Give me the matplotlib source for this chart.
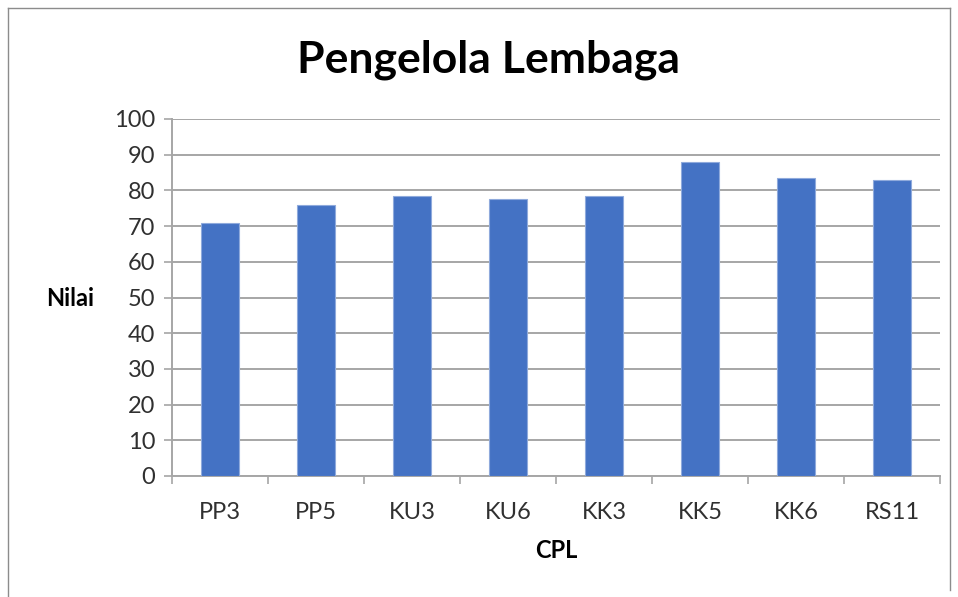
import matplotlib.pyplot as plt
from matplotlib.lines import Line2D

plt.rcParams['font.family'] = ['Lato', 'DejaVu Sans']

# data
categories = ['PP3', 'PP5', 'KU3', 'KU6', 'KK3', 'KK5', 'KK6', 'RS11']
values = [71.0, 75.8, 78.3, 77.6, 78.3, 88.0, 83.4, 82.9]

W, H = 958, 597
fig = plt.figure(figsize=(W / 100, H / 100), dpi=100)

# axes box in pixels: left 172, right 940, top 119, bottom 476
ax = fig.add_axes([172 / W, 1 - 476 / H, (940 - 172) / W, (476 - 119) / H])

x = range(len(categories))
ax.bar(x, values, width=0.4, color='#4472C4', edgecolor='#8FAADC', linewidth=0.8, zorder=3)

grid_col = '#A6A6A6'
ax.set_ylim(0, 100)
ax.set_xlim(-0.5, len(categories) - 0.5)
ax.set_yticks(range(0, 101, 10))
ax.yaxis.grid(True, color=grid_col, linewidth=1.4, zorder=0)

# category ticks at boundaries, labels at centers
ax.set_xticks([i - 0.5 for i in range(len(categories) + 1)])
ax.set_xticklabels([])
ax.set_xticks(list(x), minor=True)
ax.set_xticklabels(categories, minor=True)
ax.tick_params(axis='x', which='major', length=6, color=grid_col, width=1.2)
ax.tick_params(axis='x', which='minor', length=0, pad=19, labelsize=17, labelcolor='#303030')
ax.tick_params(axis='y', length=6, color=grid_col, width=1.2, labelsize=17,
               labelcolor='#303030', pad=6)

for s in ['top', 'right']:
    ax.spines[s].set_visible(False)
for s in ['left', 'bottom']:
    ax.spines[s].set_color(grid_col)
    ax.spines[s].set_linewidth(1.4)

fig.text(488 / W, 1 - 60 / H, 'Pengelola Lembaga', ha='center', va='center',
         fontsize=32, fontweight='bold', color='black')
fig.text(70 / W, 1 - 298 / H, 'Nilai', ha='center', va='center',
         fontsize=17, fontweight='bold', color='black')
fig.text(556 / W, 1 - 551 / H, 'CPL', ha='center', va='center',
         fontsize=17, fontweight='bold', color='black')

# outer frame
frame_col = '#8C8C8C'
fig.add_artist(Line2D([8 / W, 8 / W], [0, 1 - 8 / H], transform=fig.transFigure,
                      color=frame_col, linewidth=1))
fig.add_artist(Line2D([8 / W, 950 / W], [1 - 8 / H, 1 - 8 / H], transform=fig.transFigure,
                      color=frame_col, linewidth=1))
fig.add_artist(Line2D([950 / W, 950 / W], [1 - 8 / H, 1 - 590 / H], transform=fig.transFigure,
                      color=frame_col, linewidth=1))

fig.savefig('out.png', dpi=100, facecolor='white')
